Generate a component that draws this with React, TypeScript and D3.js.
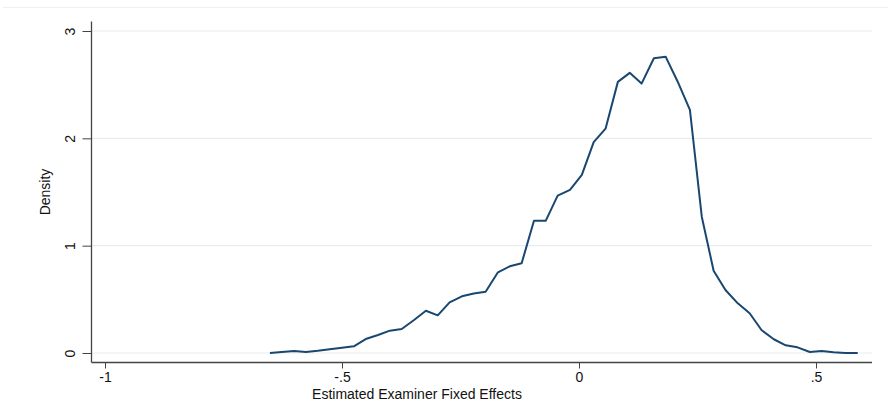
import React, { useEffect, useRef } from 'react';
import * as d3 from 'd3';

// examiner fixed effect (x) and kernel density (y)
const effects = [
  -0.652, -0.627, -0.601, -0.576, -0.551, -0.526, -0.500, -0.475, -0.450, -0.424,
  -0.399, -0.374, -0.348, -0.323, -0.298, -0.273, -0.247, -0.222, -0.197, -0.171,
  -0.146, -0.121, -0.095, -0.070, -0.045, -0.019, 0.006, 0.031, 0.056, 0.082,
  0.107, 0.132, 0.158, 0.183, 0.208, 0.234, 0.259, 0.284, 0.309, 0.335,
  0.360, 0.385, 0.411, 0.436, 0.461, 0.487, 0.512, 0.537, 0.562, 0.588,
];
const density = [
  0.0, 0.01, 0.019, 0.009, 0.02, 0.034, 0.048, 0.062, 0.13, 0.168,
  0.208, 0.224, 0.308, 0.394, 0.351, 0.472, 0.528, 0.555, 0.571, 0.752,
  0.808, 0.836, 1.233, 1.233, 1.466, 1.52, 1.659, 1.964, 2.09, 2.526,
  2.61, 2.51, 2.746, 2.759, 2.53, 2.265, 1.27, 0.767, 0.587, 0.463,
  0.37, 0.214, 0.128, 0.072, 0.053, 0.009, 0.019, 0.007, 0.0, 0.0,
];
const xTicks = [-1, -0.5, 0, 0.5];
const xTickLabels = ['-1', '-.5', '0', '.5'];
const yTicks = [0, 1, 2, 3];

const W = 888;
const H = 402;

const App = () => {
  const svgRef = useRef<SVGSVGElement>(null);

  useEffect(() => {
    const svg = d3.select(svgRef.current);
    svg.selectAll('*').remove();

    const left = 91.5, right = 872, axisY = 362.5;
    const font = '"Liberation Sans", Arial, sans-serif';

    const x = d3.scaleLinear().domain([-1, 0.5]).range([105, 816]);
    const y = d3.scaleLinear().domain([0, 3]).range([353, 31]);

    svg.append('rect').attr('width', W).attr('height', H).attr('fill', '#fff');

    // faint outer frame line at top
    svg.append('line')
      .attr('x1', 3).attr('x2', W).attr('y1', 7.5).attr('y2', 7.5)
      .attr('stroke', '#eef1f4').attr('stroke-width', 1);

    // gridlines
    svg.append('g')
      .selectAll('line')
      .data(yTicks)
      .join('line')
      .attr('x1', left).attr('x2', right)
      .attr('y1', d => y(d)).attr('y2', d => y(d))
      .attr('stroke', '#e6edf1').attr('stroke-width', 1.2);

    // y axis
    const gy = svg.append('g')
      .attr('transform', `translate(${left},0)`)
      .call(d3.axisLeft(y).tickValues(yTicks).tickSize(9).tickFormat(d3.format('d')));
    gy.select('.domain').attr('d', `M0,21.5V${axisY}`).attr('stroke', '#444').attr('stroke-width', 1.3);
    gy.selectAll('.tick line').attr('stroke', '#444');
    gy.selectAll('.tick text')
      .attr('x', null).attr('dy', null).attr('y', 0)
      .attr('transform', 'translate(-16.5,0) rotate(-90)')
      .attr('text-anchor', 'middle')
      .attr('fill', '#111')
      .style('font-family', font).style('font-size', '14px');

    // x axis
    const gx = svg.append('g')
      .attr('transform', `translate(0,${axisY})`)
      .call(d3.axisBottom(x).tickValues(xTicks).tickSize(6)
        .tickFormat((d, i) => xTickLabels[i]));
    gx.select('.domain').attr('d', `M${left},0H${right}`).attr('stroke', '#444').attr('stroke-width', 1.3);
    gx.selectAll('.tick line').attr('stroke', '#444');
    gx.selectAll('.tick text')
      .attr('y', 0).attr('dy', '19')
      .attr('fill', '#111')
      .style('font-family', font).style('font-size', '14px');

    // axis titles
    svg.append('text')
      .attr('x', 417).attr('y', 398.5)
      .attr('text-anchor', 'middle')
      .attr('fill', '#111')
      .style('font-family', font).style('font-size', '14px')
      .text('Estimated Examiner Fixed Effects');

    svg.append('text')
      .attr('transform', 'translate(50,192) rotate(-90)')
      .attr('text-anchor', 'middle')
      .attr('fill', '#111')
      .style('font-family', font).style('font-size', '14px')
      .text('Density');

    // density line
    const line = d3.line<number>()
      .x((d, i) => x(effects[i]))
      .y(d => y(d));

    svg.append('path')
      .datum(density)
      .attr('d', line)
      .attr('fill', 'none')
      .attr('stroke', '#1a476f')
      .attr('stroke-width', 2)
      .attr('stroke-linejoin', 'round');
  }, []);

  return (
    <svg
      ref={svgRef}
      width={W}
      height={H}
      style={{ position: 'fixed', left: 0, top: 0, display: 'block' }}
    />
  );
};

export default App;
